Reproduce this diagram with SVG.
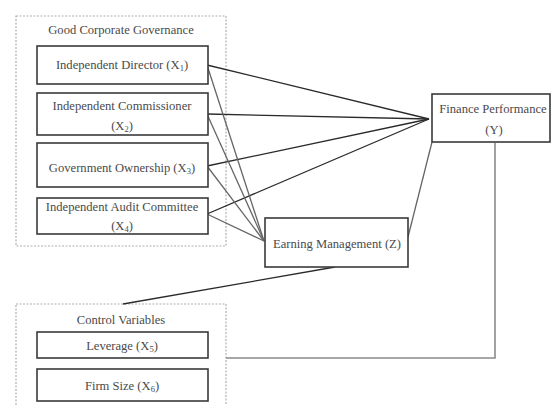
<svg xmlns="http://www.w3.org/2000/svg" width="551" height="405" viewBox="0 0 551 405">
<style>
.grp{fill:none;stroke:#b0b0b0;stroke-width:1.2;stroke-dasharray:2 1.5}
.box{fill:#fff;stroke:#3a3a3a;stroke-width:1.6}
.t{font-family:"Liberation Serif","Times New Roman",serif;font-size:12.6px;fill:#4a4a4a;text-anchor:middle}
.s{font-size:8.5px}
.c line,.c path{stroke:#2a2a2a;stroke-width:1.3;fill:none}
.c .g{stroke:#666}
</style>
<rect width="551" height="405" fill="#fff"/>
<g id="gcg">
<rect class="grp" x="16" y="16" width="210" height="230"/>
<text class="t" x="121" y="34">Good Corporate Governance</text>
</g>
<g id="cv">
<rect class="grp" x="16" y="304" width="210" height="110"/>
<text class="t" x="121" y="324">Control Variables</text>
</g>
<g class="c" id="connectors">
<line x1="207" y1="65" x2="429" y2="119"/>
<line x1="207" y1="114" x2="429" y2="119"/>
<line x1="207" y1="166" x2="429" y2="119"/>
<line x1="207" y1="214" x2="429" y2="119"/>
<line class="g" x1="207" y1="65" x2="264" y2="241"/>
<line class="g" x1="207" y1="114" x2="264" y2="241"/>
<line class="g" x1="207" y1="166" x2="264" y2="241"/>
<line class="g" x1="207" y1="214" x2="264" y2="241"/>
<line class="g" x1="408" y1="237" x2="432" y2="142"/>
<line x1="123" y1="304" x2="335" y2="267"/>
<path class="g" d="M226 358 H495 V143" style="stroke:#8a8a8a;stroke-width:1.6"/>
</g>
<g id="id">
<rect class="box" x="37" y="46" width="171" height="38"/>
<text class="t" x="122" y="69">Independent Director (X<tspan class="s" dy="2">1</tspan><tspan dy="-2">)</tspan></text>
</g>
<g id="ic">
<rect class="box" x="37" y="93" width="171" height="42"/>
<text class="t" x="122" y="110">Independent Commissioner</text>
<text class="t" x="122" y="130">(X<tspan class="s" dy="2">2</tspan><tspan dy="-2">)</tspan></text>
</g>
<g id="go">
<rect class="box" x="37" y="143" width="171" height="44"/>
<text class="t" x="122" y="172">Government Ownership (X<tspan class="s" dy="2">3</tspan><tspan dy="-2">)</tspan></text>
</g>
<g id="iac">
<rect class="box" x="37" y="198" width="171" height="36"/>
<text class="t" x="122" y="211">Independent Audit Committee</text>
<text class="t" x="122" y="230">(X<tspan class="s" dy="2">4</tspan><tspan dy="-2">)</tspan></text>
</g>
<g id="lev">
<rect class="box" x="37" y="332" width="171" height="26"/>
<text class="t" x="122" y="350">Leverage (X<tspan class="s" dy="2">5</tspan><tspan dy="-2">)</tspan></text>
</g>
<g id="fs">
<rect class="box" x="37" y="369" width="171" height="32"/>
<text class="t" x="122" y="390">Firm Size (X<tspan class="s" dy="2">6</tspan><tspan dy="-2">)</tspan></text>
</g>
<g id="em">
<rect class="box" x="265" y="218" width="143" height="49"/>
<text class="t" x="337" y="248">Earning Management (Z)</text>
</g>
<g id="fp">
<rect class="box" x="432" y="94" width="118" height="48"/>
<text class="t" x="493" y="113">Finance Performance</text>
<text class="t" x="494" y="134">(Y)</text>
</g>
</svg>
